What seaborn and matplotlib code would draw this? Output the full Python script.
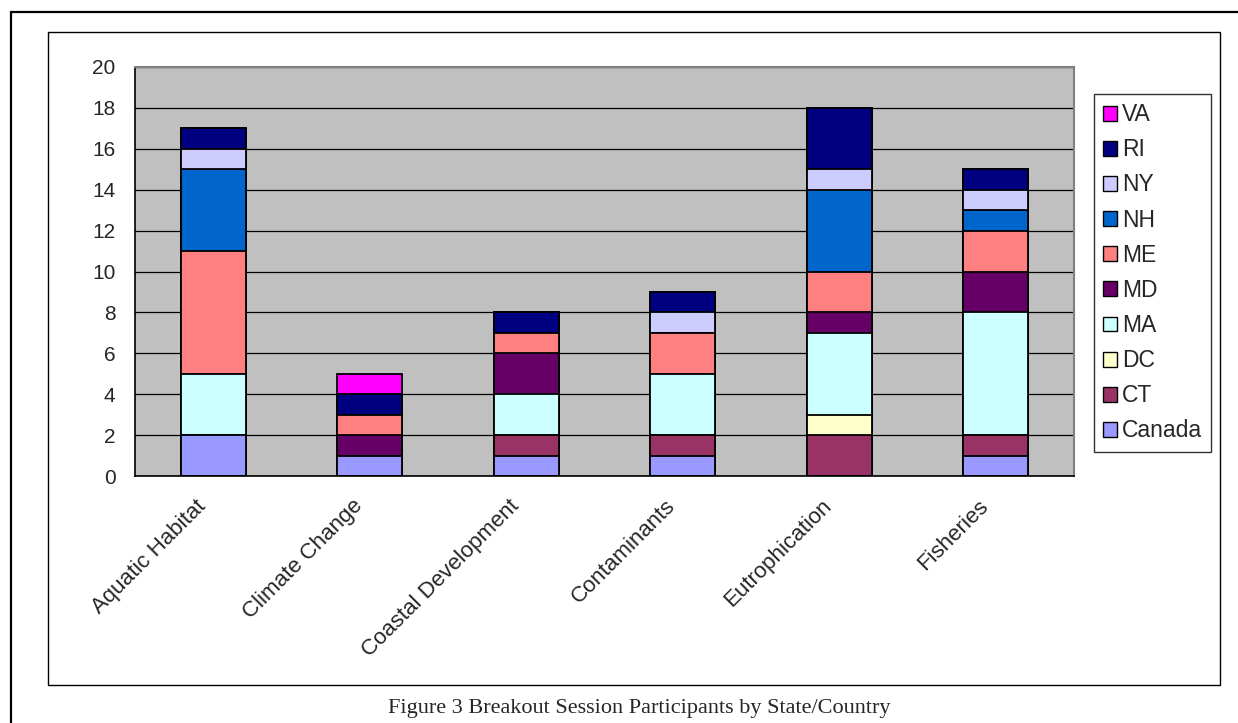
import numpy as np
import pandas as pd
import matplotlib
matplotlib.use("Agg")
import matplotlib.pyplot as plt
from matplotlib.patches import Patch, Rectangle
from matplotlib.lines import Line2D
from matplotlib.transforms import ScaledTranslation
import seaborn as sns

# ------------------------------------
# Data: participants per session, by state/country
# ------------------------------------
topics = ['Aquatic Habitat', 'Climate Change', 'Coastal Development',
          'Contaminants', 'Eutrophication', 'Fisheries']
states = ['Canada', 'CT', 'DC', 'MA', 'MD', 'ME', 'NH', 'NY', 'RI', 'VA']

canada = [2, 1, 1, 1, 0, 1]
ct = [0, 0, 1, 1, 2, 1]
dc = [0, 0, 0, 0, 1, 0]
ma = [3, 0, 2, 3, 4, 6]
md = [0, 1, 2, 0, 1, 2]
me = [6, 1, 1, 2, 2, 2]
nh = [4, 0, 0, 0, 4, 1]
ny = [1, 0, 0, 1, 1, 1]
ri = [1, 1, 1, 1, 3, 1]
va = [0, 1, 0, 0, 0, 0]

colors = ['#9999FF', '#993366', '#FFFFCC', '#CCFFFF', '#660066',
          '#FF8080', '#0066CC', '#CCCCFF', '#000080', '#FF00FF']

df = pd.DataFrame({'Canada': canada, 'CT': ct, 'DC': dc, 'MA': ma, 'MD': md,
                   'ME': me, 'NH': nh, 'NY': ny, 'RI': ri, 'VA': va},
                  index=topics)
cum = df[states].cumsum(axis=1)

# ------------------------------------
# Figure
# ------------------------------------
sns.set_style('white')
plt.rcParams['font.family'] = ['Liberation Sans', 'DejaVu Sans']

W, H = 1238, 723
fig = plt.figure(figsize=(W / 100, H / 100), dpi=100)

# page frame lines and chart frame
fig.add_artist(Line2D([11 / W, 1.0], [1 - 12 / H, 1 - 12 / H], color='black', lw=1.6))
fig.add_artist(Line2D([11 / W, 11 / W], [0, 1 - 12 / H], color='black', lw=1.6))
fig.add_artist(Rectangle((48 / W, 1 - 685 / H), (1220 - 48) / W, (685 - 32) / H,
                         fill=False, edgecolor='black', lw=1.0))

ax = fig.add_axes([135 / W, 1 - 476 / H, (1074 - 135) / W, (476 - 67) / H])
ax.set_facecolor('#C0C0C0')

# stacked bars: draw cumulative totals from the top series down
for state, col in reversed(list(zip(states, colors))):
    sns.barplot(x=topics, y=cum[state].values, order=topics, color=col,
                saturation=1, width=0.415, edgecolor='black', linewidth=1.3,
                ax=ax)

ax.set_ylim(0, 20)
ax.set_xlim(-0.5, 5.5)
ax.set_yticks(np.arange(0, 21, 2))
ax.yaxis.grid(True, color='black', lw=0.9)
ax.set_axisbelow(True)

ax.set_xticks(range(len(topics)))
ax.set_xticks(np.arange(-0.5, 6, 1), minor=True)
ax.tick_params(axis='x', which='major', length=0, pad=14)
ax.tick_params(axis='x', which='minor', length=6, direction='out',
               color='black', width=1)
ax.tick_params(axis='y', length=6, direction='out', color='black',
               width=1, labelsize=15, pad=8)
ax.set_xticklabels(topics, rotation=45, ha='right', va='top',
                   rotation_mode='anchor', fontsize=16)
# nudge the rotated labels a little to the left of the category centre
shift = ScaledTranslation(-18 / 100, 0, fig.dpi_scale_trans)
for lab in ax.get_xticklabels():
    lab.set_transform(lab.get_transform() + shift)
ax.set_xlabel('')
ax.set_ylabel('')

for side in ['left', 'bottom']:
    ax.spines[side].set_color('black')
    ax.spines[side].set_linewidth(1.2)
for side in ['top', 'right']:
    ax.spines[side].set_visible(True)
    ax.spines[side].set_color('#808080')
    ax.spines[side].set_linewidth(1.5)

# legend (reversed, VA on top)
handles = [Patch(facecolor=c, edgecolor='black', lw=1.0, label=s)
           for s, c in zip(states, colors)][::-1]
leg = fig.legend(handles=handles, loc='upper left',
                 bbox_to_anchor=(1094 / W, 1 - 94 / H), fontsize=16.5,
                 frameon=True, fancybox=False, edgecolor='black',
                 handlelength=0.62, handleheight=0.62, handletextpad=0.2,
                 labelspacing=0.53, borderpad=0.4, borderaxespad=0)
leg.get_frame().set_linewidth(1.0)

fig.text(639 / W, 1 - 708 / H,
         'Figure 3 Breakout Session Participants by State/Country',
         ha='center', va='center', fontsize=16,
         family=['Liberation Serif', 'DejaVu Serif'])

fig.savefig('out.png', dpi=100)
